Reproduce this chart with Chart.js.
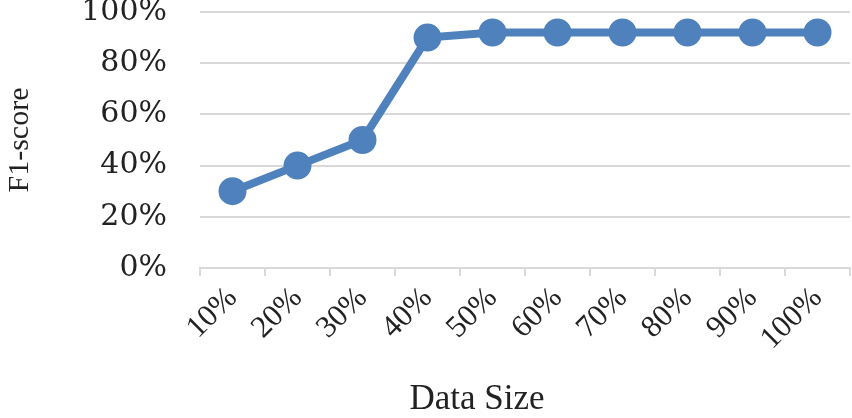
<!DOCTYPE html>
<html>
<head>
<meta charset="utf-8">
<script src="https://cdn.jsdelivr.net/npm/chart.js@4"></script>
<style>
  html, body { margin: 0; padding: 0; background: #fff; }
  #wrap { width: 852px; height: 418px; }
</style>
</head>
<body>
<div id="wrap"><canvas id="myChart" width="852" height="418"></canvas></div>
<script>
const labels = ['10%', '20%', '30%', '40%', '50%', '60%', '70%', '80%', '90%', '100%']
const f1 = [30, 40, 50, 90, 92, 92, 92, 92, 92, 92]
const yTicks = [0, 20, 40, 60, 80, 100]
const xTitle = 'Data Size'
const yTitle = 'F1-score'

const ctx = document.getElementById('myChart')
const serif = '"Liberation Serif", "Times New Roman", serif'

// x title sits left of the axis centre in the original, so draw it by hand
const xTitlePlugin = {
    id: 'xTitle',
    afterDraw(chart) {
        const c = chart.ctx
        c.save()
        c.font = '35px ' + serif
        c.fillStyle = '#222'
        c.textAlign = 'center'
        c.textBaseline = 'alphabetic'
        c.fillText(xTitle, 477, 409)
        c.restore()
    }
}

// stop tick labels from pushing the plot area in
function noPadding(axis) {
    axis.paddingLeft = 0
    axis.paddingRight = 0
    axis.paddingTop = 0
    axis.paddingBottom = 0
}

const config = {
    type: 'line',
    data: {
        labels,
        datasets: [{
            data: f1,
            borderColor: '#4f81bd',
            backgroundColor: '#4f81bd',
            borderWidth: 8,
            pointRadius: 10,
            pointHoverRadius: 10,
            tension: 0,
            clip: false
        }]
    },
    options: {
        responsive: false,
        animation: false,
        layout: { autoPadding: false, padding: { top: 12, right: 2, left: 0, bottom: 0 } },
        plugins: { legend: { display: false }, tooltip: { enabled: false } },
        scales: {
            x: {
                offset: true,
                grid: { offset: true, drawOnChartArea: false, color: '#d9d9d9', lineWidth: 2, tickLength: 8 },
                border: { color: '#d9d9d9', width: 2 },
                ticks: { color: '#222', font: { family: serif, size: 31 }, minRotation: 45, maxRotation: 45, padding: 4 },
                afterFit: axis => {
                    noPadding(axis)
                    axis.height = 150
                }
            },
            y: {
                min: 0,
                max: 100,
                afterBuildTicks: axis => { axis.ticks = yTicks.map(v => ({ value: v })) },
                grid: { color: '#d9d9d9', lineWidth: 2, drawTicks: false },
                border: { display: false },
                ticks: { color: '#222', font: { family: '"DejaVu Serif", serif', size: 30 }, padding: 33, callback: v => v + '%' },
                title: { display: true, text: yTitle, color: '#222', font: { family: serif, size: 30 }, padding: { top: 2, bottom: 0 } },
                afterFit: axis => {
                    noPadding(axis)
                    axis.width = 200
                }
            }
        }
    },
    plugins: [xTitlePlugin]
}

const myChart = new Chart(ctx, config)
</script>
</body>
</html>
